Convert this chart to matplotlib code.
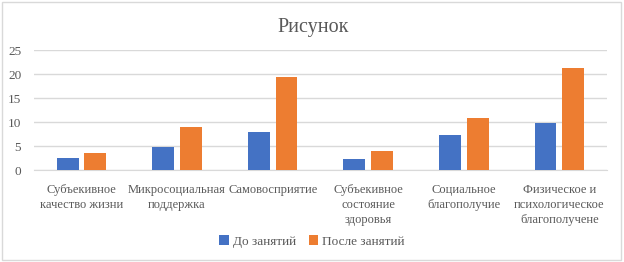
import numpy as np
import matplotlib
matplotlib.use("Agg")
import matplotlib.pyplot as plt
from matplotlib.patches import Rectangle

categories = [
    "Субъекивное\nкачество жизни",
    "Микросоциальная\nподдержка",
    "Самовосприятие",
    "Субъекивное\nсостояние\nздоровья",
    "Социальное\nблагополучие",
    "Физическое и\nпсихологическое\nблагополучене",
]
before = [2.6, 4.7, 7.9, 2.3, 7.3, 9.7]
after = [3.6, 8.9, 19.4, 3.9, 10.9, 21.2]
series_names = ["До занятий", "После занятий"]
yticks = [0, 5, 10, 15, 20, 25]

plt.rcParams['font.family'] = ['Liberation Serif', 'DejaVu Serif']
txt = '#595959'
grid = '#d9d9d9'

fig = plt.figure(figsize=(6.24, 2.62), dpi=100)
ax = fig.add_axes([0.054, 0.351, 0.919, 0.458])

x = np.arange(len(categories))
w = 0.23
ax.bar(x - 0.145, before, w, color='#4472C4', label=series_names[0], zorder=3)
ax.bar(x + 0.145, after, w, color='#ED7D31', label=series_names[1], zorder=3)

ax.set_xlim(-0.5, len(categories) - 0.5)
ax.set_ylim(0, 25)
ax.set_yticks(yticks)
ax.yaxis.grid(True, color=grid, linewidth=1, zorder=0)
ax.tick_params(axis='y', length=0, labelsize=9.5, colors=txt, pad=9)
ax.set_xticks(x)
ax.set_xticklabels(categories, fontsize=9, color=txt, linespacing=1.35, va='top')
ax.tick_params(axis='x', length=0, pad=10)
for s in ['top', 'right', 'left']:
    ax.spines[s].set_visible(False)
ax.spines['bottom'].set_color(grid)

fig.text(0.502, 0.895, "Рисунок", ha='center', va='center', fontsize=14.5, color=txt)

fig.legend(loc='center', bbox_to_anchor=(0.5, 0.078), ncol=2, frameon=False,
           fontsize=9.5, labelcolor=txt, handlelength=0.7, handleheight=0.7,
           handletextpad=0.3, columnspacing=1.0)

fig.patches.append(Rectangle((0.004, 0.008), 0.991, 0.984, transform=fig.transFigure,
                             fill=False, edgecolor=grid, linewidth=1))

fig.savefig("out.png", dpi=100)
